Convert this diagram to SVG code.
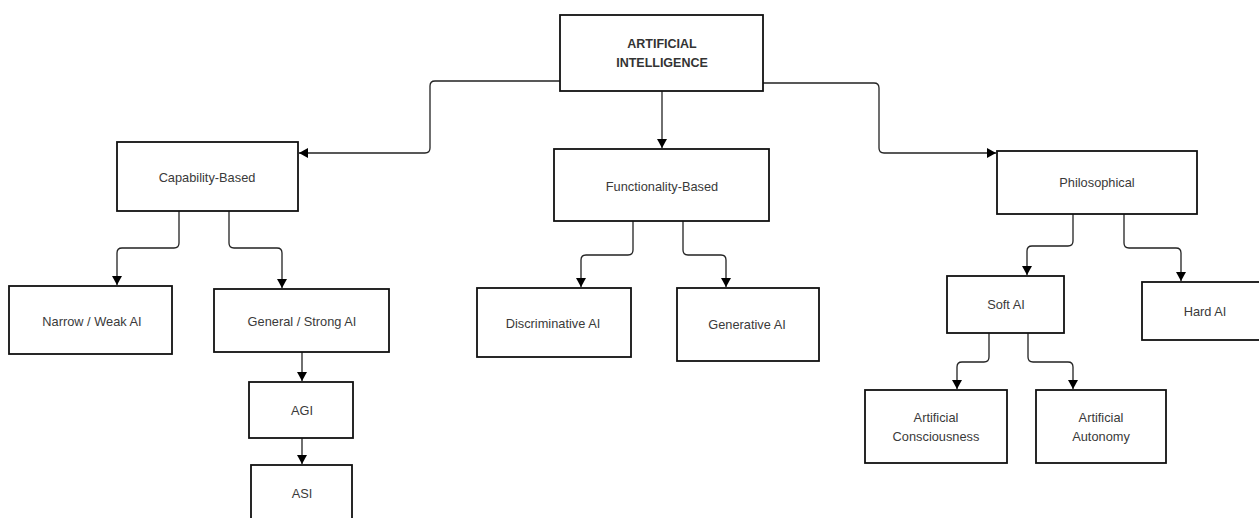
<svg xmlns="http://www.w3.org/2000/svg" width="1259" height="518" viewBox="0 0 1259 518">
<style>
.box{fill:#fff;stroke:#111;stroke-width:1.8}
.lbl{font-family:"Liberation Sans",Arial,sans-serif;font-size:12.8px;fill:#3a3a3a;text-anchor:middle;dominant-baseline:central}
.ttl{font-family:"Liberation Sans",Arial,sans-serif;font-size:12.5px;font-weight:bold;fill:#333;text-anchor:middle;dominant-baseline:central}
.con{fill:none;stroke:#222;stroke-width:1.3;marker-end:url(#arr)}
</style>
<defs>
<marker id="arr" markerUnits="userSpaceOnUse" markerWidth="12" markerHeight="12" viewBox="0 0 12 12" refX="10" refY="6" orient="auto">
<path d="M1,1 L10,6 L1,11 Z" fill="#000"/>
</marker>
</defs>
<rect width="1259" height="518" fill="#fff"/>
<g id="connectors">
<path class="con" d="M560,81 H435 Q430,81 430,86 V148 Q430,153 425,153 H299"/>
<path class="con" d="M662,91 V148"/>
<path class="con" d="M763,83 H874 Q879,83 879,88 V148 Q879,153 884,153 H996"/>
<path class="con" d="M179,211 V243 Q179,248 174,248 H122 Q117,248 117,253 V285"/>
<path class="con" d="M229,211 V243 Q229,248 234,248 H277 Q282,248 282,253 V288"/>
<path class="con" d="M302,352 V381"/>
<path class="con" d="M302,438 V464"/>
<path class="con" d="M633,221 V250 Q633,255 628,255 H586 Q581,255 581,260 V287"/>
<path class="con" d="M683,221 V250 Q683,255 688,255 H721 Q726,255 726,260 V287"/>
<path class="con" d="M1073,214 V241 Q1073,246 1068,246 H1032 Q1027,246 1027,251 V275"/>
<path class="con" d="M1124,214 V243 Q1124,248 1129,248 H1176 Q1181,248 1181,253 V281"/>
<path class="con" d="M989,333 V357 Q989,362 984,362 H962 Q957,362 957,367 V389"/>
<path class="con" d="M1028,333 V357 Q1028,362 1033,362 H1068 Q1073,362 1073,367 V389"/>
</g>
<g id="ai"><rect class="box" x="560" y="15" width="203" height="76"/><text class="ttl" x="662" y="44">ARTIFICIAL</text><text class="ttl" x="662" y="63">INTELLIGENCE</text></g>
<g id="capability"><rect class="box" x="117" y="142" width="181" height="69"/><text class="lbl" x="207" y="177">Capability-Based</text></g>
<g id="narrow"><rect class="box" x="9" y="286" width="163" height="68"/><text class="lbl" x="92" y="321">Narrow / Weak AI</text></g>
<g id="general"><rect class="box" x="214" y="289" width="175" height="63"/><text class="lbl" x="302" y="321">General / Strong AI</text></g>
<g id="agi"><rect class="box" x="249" y="382" width="104" height="56"/><text class="lbl" x="302" y="410">AGI</text></g>
<g id="asi"><rect class="box" x="251" y="465" width="101" height="70"/><text class="lbl" x="302" y="493">ASI</text></g>
<g id="functionality"><rect class="box" x="554" y="149" width="215" height="72"/><text class="lbl" x="662" y="186">Functionality-Based</text></g>
<g id="discriminative"><rect class="box" x="477" y="288" width="154" height="69"/><text class="lbl" x="553" y="323">Discriminative AI</text></g>
<g id="generative"><rect class="box" x="677" y="288" width="142" height="73"/><text class="lbl" x="747" y="324">Generative AI</text></g>
<g id="philosophical"><rect class="box" x="997" y="151" width="200" height="63"/><text class="lbl" x="1097" y="182">Philosophical</text></g>
<g id="soft"><rect class="box" x="947" y="276" width="117" height="57"/><text class="lbl" x="1006" y="304">Soft AI</text></g>
<g id="hard"><rect class="box" x="1142" y="282" width="125" height="58"/><text class="lbl" x="1205" y="311">Hard AI</text></g>
<g id="consciousness"><rect class="box" x="865" y="390" width="142" height="73"/><text class="lbl" x="936" y="417">Artificial</text><text class="lbl" x="936" y="436">Consciousness</text></g>
<g id="autonomy"><rect class="box" x="1036" y="390" width="130" height="73"/><text class="lbl" x="1101" y="417">Artificial</text><text class="lbl" x="1101" y="436">Autonomy</text></g>
</svg>
